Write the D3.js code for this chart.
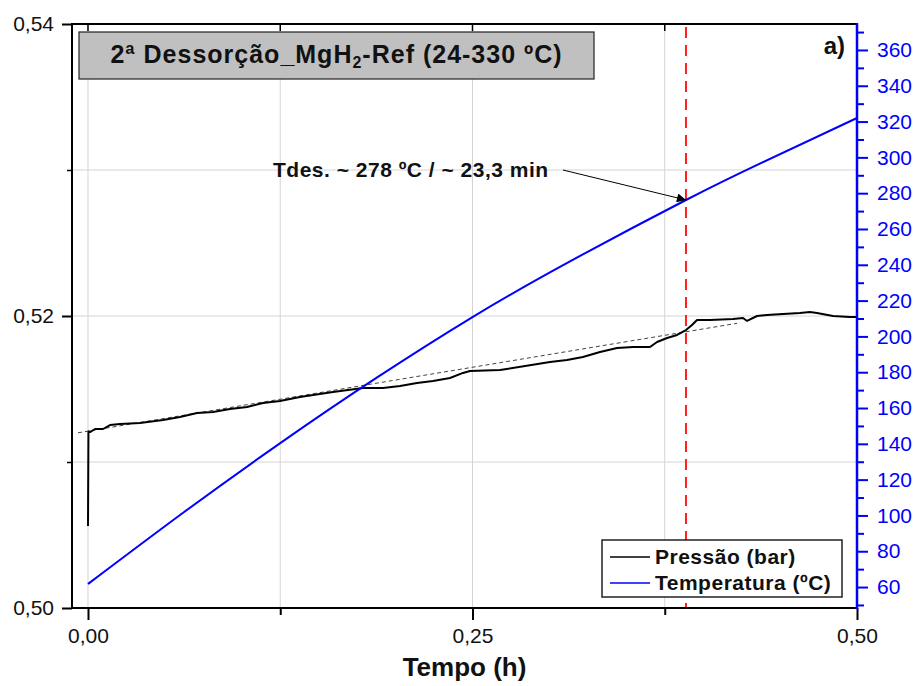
<!DOCTYPE html>
<html>
<head>
<meta charset="utf-8">
<script src="https://cdn.jsdelivr.net/npm/d3@7"></script>
<style>
  body { margin: 0; background: #fff; }
  svg { font-family: 'Liberation Sans', Arial, sans-serif; }
</style>
</head>
<body>
<div class="chart"></div>
<script>
// temperatura (ºC) vs tempo (h)
var tempT = [0, 0.0625, 0.125, 0.1875, 0.25, 0.3125, 0.3888, 0.4375, 0.5];
var tempV = [61.7, 101.9, 140.4, 176.8, 210.8, 241.5, 276.2, 296.8, 322];

// pressão (bar) vs tempo (h)
var presT = [0, 0.0003, 0.0013, 0.0046, 0.0098, 0.0143, 0.0208, 0.0338, 0.0488, 0.0598,
  0.0709, 0.0813, 0.0923, 0.1034, 0.1138, 0.1248, 0.1378, 0.1593, 0.1788, 0.1918,
  0.2029, 0.2139, 0.2243, 0.2354, 0.2438, 0.2484, 0.2679, 0.3004, 0.3114, 0.3218,
  0.3329, 0.344, 0.3544, 0.3654, 0.37, 0.3765, 0.383, 0.3888, 0.3927, 0.396,
  0.4044, 0.4194, 0.4259, 0.4285, 0.435, 0.4415, 0.4519, 0.4629, 0.4694, 0.474,
  0.4844, 0.4954, 0.5];
var presV = [0.50562, 0.51212, 0.51205, 0.51226, 0.51226, 0.51253, 0.5126, 0.51267, 0.51288, 0.51308,
  0.51336, 0.51342, 0.51363, 0.51377, 0.51404, 0.51418, 0.51445, 0.51479, 0.51507, 0.51507,
  0.51521, 0.51541, 0.51555, 0.51575, 0.5161, 0.51623, 0.5163, 0.51685, 0.51699, 0.51719,
  0.51753, 0.51781, 0.51788, 0.51788, 0.51822, 0.51849, 0.5187, 0.51904, 0.51938, 0.51973,
  0.51973, 0.51979, 0.51986, 0.51966, 0.52, 0.52007, 0.52014, 0.52021, 0.52027, 0.52021,
  0.52, 0.51993, 0.51993];

// linha de base (tracejada)
var baseT = [-0.0065, 0.422];
var baseV = [0.512, 0.5195];

var xTicks = [0, 0.25, 0.5];
var xMinor = [0.125, 0.375];
var yTicks = [0.50, 0.52, 0.54];
var yMinor = [0.51, 0.53];
var tTicks = [60, 80, 100, 120, 140, 160, 180, 200, 220, 240, 260, 280, 300, 320, 340, 360];
var tMinor = [50, 70, 90, 110, 130, 150, 170, 190, 210, 230, 250, 270, 290, 310, 330, 350, 370];

var tdesIdx = 6;
var fmt = function (d) { return d3.format('.2f')(d).replace('.', ','); };

var W = 919, H = 686;
var L = 72, R = 857, T = 24, B = 608;
var blue = '#0000ff';

var svg = d3.select('.chart').append('svg').attr('width', W).attr('height', H);

var x = d3.scaleLinear().domain([-0.0104, 0.5]).range([L, R]);
var y = d3.scaleLinear().domain([0.50, 0.54]).range([B, T]);
var yT = d3.scaleLinear().domain([48.3, 374.5]).range([B, T]);

// grid
svg.append('g')
  .selectAll('line')
  .data(xTicks.concat(xMinor))
  .enter()
  .append('line')
  .attr('x1', function (d) { return x(d); })
  .attr('x2', function (d) { return x(d); })
  .attr('y1', T)
  .attr('y2', B)
  .attr('stroke', '#d4d4d4')
  .attr('stroke-width', 1);

svg.append('g')
  .selectAll('line')
  .data([0.51, 0.52, 0.53])
  .enter()
  .append('line')
  .attr('x1', L)
  .attr('x2', R)
  .attr('y1', function (d) { return y(d); })
  .attr('y2', function (d) { return y(d); })
  .attr('stroke', '#d4d4d4')
  .attr('stroke-width', 1);

// title box
svg.append('rect')
  .attr('x', 79).attr('y', 32)
  .attr('width', 515).attr('height', 47)
  .attr('fill', '#c0c0c0')
  .attr('stroke', '#222')
  .attr('stroke-width', 1.2);

var title = svg.append('text')
  .attr('x', 336.5).attr('y', 63)
  .attr('text-anchor', 'middle')
  .attr('font-size', 25)
  .attr('font-weight', 'bold')
  .attr('letter-spacing', 1)
  .attr('fill', '#111');
title.append('tspan').text('2ª Dessorção_MgH');
title.append('tspan').attr('font-size', 16).attr('dy', 5).text('2');
title.append('tspan').attr('dy', -5).text('-Ref (24-330 ºC)');

svg.append('text')
  .attr('x', 845).attr('y', 54)
  .attr('text-anchor', 'end')
  .attr('font-size', 24)
  .attr('font-weight', 'bold')
  .attr('fill', '#111')
  .text('a)');

// red dashed line at Tdes
svg.append('line')
  .attr('x1', x(tempT[tdesIdx])).attr('x2', x(tempT[tdesIdx]))
  .attr('y1', T + 3).attr('y2', B)
  .attr('stroke', '#ff2020')
  .attr('stroke-width', 2)
  .attr('stroke-dasharray', '11,7');

// baseline
svg.append('path')
  .datum(d3.zip(baseT, baseV))
  .attr('fill', 'none')
  .attr('stroke', '#444')
  .attr('stroke-width', 1)
  .attr('stroke-dasharray', '4,3')
  .attr('d', d3.line()
    .x(function (d) { return x(d[0]); })
    .y(function (d) { return y(d[1]); }));

// pressure
svg.append('path')
  .datum(d3.zip(presT, presV))
  .attr('fill', 'none')
  .attr('stroke', '#000')
  .attr('stroke-width', 2)
  .attr('stroke-linejoin', 'bevel')
  .attr('d', d3.line()
    .x(function (d) { return x(d[0]); })
    .y(function (d) { return y(d[1]); }));

// temperature
svg.append('path')
  .datum(d3.zip(tempT, tempV))
  .attr('fill', 'none')
  .attr('stroke', blue)
  .attr('stroke-width', 2)
  .attr('d', d3.line()
    .curve(d3.curveNatural)
    .x(function (d) { return x(d[0]); })
    .y(function (d) { return yT(d[1]); }));

// annotation
svg.append('defs')
  .append('marker')
  .attr('id', 'arrow')
  .attr('viewBox', '0 0 10 10')
  .attr('refX', 10).attr('refY', 5)
  .attr('markerWidth', 14).attr('markerHeight', 9)
  .attr('markerUnits', 'userSpaceOnUse')
  .attr('orient', 'auto')
  .append('path')
  .attr('d', 'M0,0L10,5L0,10z')
  .attr('fill', '#000');

svg.append('line')
  .attr('x1', 563).attr('y1', 170)
  .attr('x2', x(tempT[tdesIdx])).attr('y2', yT(tempV[tdesIdx]))
  .attr('stroke', '#000')
  .attr('stroke-width', 1)
  .attr('marker-end', 'url(#arrow)');

svg.append('text')
  .attr('x', 273).attr('y', 177)
  .attr('font-size', 21)
  .attr('font-weight', 'bold')
  .attr('letter-spacing', 0.5)
  .attr('fill', '#111')
  .text('Tdes. ~ 278 ºC / ~ 23,3 min');

// frame
svg.append('line').attr('x1', L).attr('x2', R).attr('y1', T).attr('y2', T)
  .attr('stroke', '#000').attr('stroke-width', 2);
svg.append('line').attr('x1', L - 1).attr('x2', R).attr('y1', B).attr('y2', B)
  .attr('stroke', '#000').attr('stroke-width', 2);
svg.append('line').attr('x1', L).attr('x2', L).attr('y1', T - 1).attr('y2', B + 1)
  .attr('stroke', '#000').attr('stroke-width', 2);

// top ticks (inward)
svg.append('g')
  .selectAll('line')
  .data(xTicks.concat(xMinor))
  .enter()
  .append('line')
  .attr('x1', function (d) { return x(d); })
  .attr('x2', function (d) { return x(d); })
  .attr('y1', T).attr('y2', T + 7)
  .attr('stroke', '#000').attr('stroke-width', 1.5);

// bottom axis
var xAxis = svg.append('g')
  .attr('transform', 'translate(0,' + B + ')')
  .call(d3.axisBottom(x).tickValues(xTicks).tickFormat(fmt).tickSize(12).tickPadding(8));
xAxis.select('.domain').remove();
xAxis.selectAll('line').attr('stroke-width', 2);
xAxis.selectAll('text').attr('font-size', 21).attr('fill', '#111')
  .attr('font-family', 'Liberation Sans, Arial, sans-serif');

var xAxisMin = svg.append('g')
  .attr('transform', 'translate(0,' + B + ')')
  .call(d3.axisBottom(x).tickValues(xMinor).tickFormat('').tickSize(7));
xAxisMin.select('.domain').remove();
xAxisMin.selectAll('line').attr('stroke-width', 2);

// left axis
var yAxis = svg.append('g')
  .attr('transform', 'translate(' + L + ',0)')
  .call(d3.axisLeft(y).tickValues(yTicks).tickFormat(fmt).tickSize(10).tickPadding(8));
yAxis.select('.domain').remove();
yAxis.selectAll('line').attr('stroke-width', 2);
yAxis.selectAll('text').attr('font-size', 21).attr('fill', '#111')
  .attr('font-family', 'Liberation Sans, Arial, sans-serif');

var yAxisMin = svg.append('g')
  .attr('transform', 'translate(' + L + ',0)')
  .call(d3.axisLeft(y).tickValues(yMinor).tickFormat('').tickSize(5));
yAxisMin.select('.domain').remove();
yAxisMin.selectAll('line').attr('stroke-width', 1.5);

// right axis (temperature)
var tAxis = svg.append('g')
  .attr('transform', 'translate(' + R + ',0)')
  .call(d3.axisRight(yT).tickValues(tTicks).tickSize(11).tickPadding(9));
tAxis.select('.domain').attr('stroke', blue).attr('stroke-width', 2.5)
  .attr('d', 'M0,' + (T - 1) + 'V' + (B + 1));
tAxis.selectAll('line').attr('stroke', blue).attr('stroke-width', 2);
tAxis.selectAll('text').attr('font-size', 21).attr('fill', blue)
  .attr('font-family', 'Liberation Sans, Arial, sans-serif');

var tAxisMin = svg.append('g')
  .attr('transform', 'translate(' + R + ',0)')
  .call(d3.axisRight(yT).tickValues(tMinor).tickFormat('').tickSize(7));
tAxisMin.select('.domain').remove();
tAxisMin.selectAll('line').attr('stroke', blue).attr('stroke-width', 2);

// x title
svg.append('text')
  .attr('x', (L + R) / 2).attr('y', 676)
  .attr('text-anchor', 'middle')
  .attr('font-size', 26)
  .attr('font-weight', 'bold')
  .attr('fill', '#111')
  .text('Tempo (h)');

// legend
var leg = svg.append('g');
leg.append('rect')
  .attr('x', 602).attr('y', 540)
  .attr('width', 240).attr('height', 57)
  .attr('fill', '#fff')
  .attr('stroke', '#222')
  .attr('stroke-width', 1.5);

var legItems = [['Pressão (bar)', '#000'], ['Temperatura (ºC)', blue]];
legItems.forEach(function (d, i) {
  var ly = 557 + i * 26;
  leg.append('line')
    .attr('x1', 610).attr('x2', 650)
    .attr('y1', ly).attr('y2', ly)
    .attr('stroke', d[1]).attr('stroke-width', 1.5);
  leg.append('text')
    .attr('x', 655).attr('y', ly + 7)
    .attr('font-size', 21)
    .attr('font-weight', 'bold')
    .attr('letter-spacing', 0.5)
    .attr('fill', '#111')
    .text(d[0]);
});
</script>
</body>
</html>
